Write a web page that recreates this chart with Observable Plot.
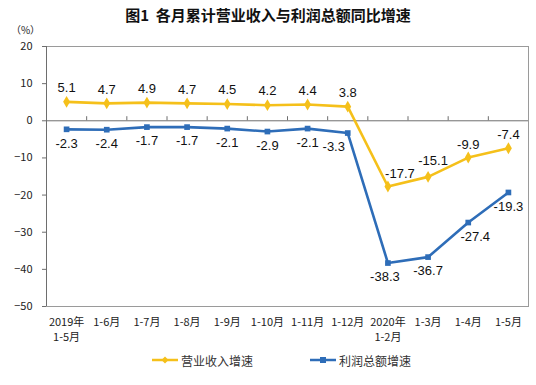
<!DOCTYPE html>
<html>
<head>
<meta charset="utf-8">
<script src="https://cdn.jsdelivr.net/npm/d3@7"></script>
<script src="https://cdn.jsdelivr.net/npm/@observablehq/plot@0.6"></script>
<style>
  html, body { margin: 0; padding: 0; background: #fff; }
  #wrap { position: relative; width: 536px; height: 385px; overflow: hidden; font-family: "Noto Sans CJK SC", sans-serif; }
  #title { position: absolute; top: 4px; left: 0; width: 536px; text-align: center; font-size: 15px; font-weight: bold; color: #111; line-height: 22px; }
  #chart { position: absolute; top: 0; left: 0; }
  #legend { position: absolute; top: 350px; left: 0; width: 536px; height: 20px; font-size: 12px; color: #333; }
  .item { position: absolute; top: 0; display: flex; align-items: center; height: 20px; }
  .item svg { margin-right: 3px; }
</style>
</head>
<body>
<div id="wrap">
  <div id="chart"></div>
  <div id="title">图1&nbsp;&nbsp;各月累计营业收入与利润总额同比增速</div>
  <div id="legend">
    <div class="item" style="left:152px"><svg width="26" height="10"><line x1="0" y1="5" x2="26" y2="5" stroke="#F5C01A" stroke-width="2.5"/><path d="M13,1.5L16.5,5L13,8.5L9.5,5Z" fill="#F5C01A"/></svg><span>营业收入增速</span></div>
    <div class="item" style="left:310px"><svg width="26" height="10"><line x1="0" y1="5" x2="26" y2="5" stroke="#2E6DB8" stroke-width="2.5"/><rect x="10" y="2" width="6" height="6" fill="#2E6DB8"/></svg><span>利润总额增速</span></div>
  </div>
</div>
<script>
const categories = ["2019年\n1-5月", "1-6月", "1-7月", "1-8月", "1-9月", "1-10月", "1-11月", "1-12月", "2020年\n1-2月", "1-3月", "1-4月", "1-5月"];
const revenue = [5.1, 4.7, 4.9, 4.7, 4.5, 4.2, 4.4, 3.8, -17.7, -15.1, -9.9, -7.4];
const profit = [-2.3, -2.4, -1.7, -1.7, -2.1, -2.9, -2.1, -3.3, -38.3, -36.7, -27.4, -19.3];
const yTicks = [20, 10, 0, -10, -20, -30, -40, -50];

const YELLOW = "#F5C01A";
const BLUE = "#2E6DB8";
const LABEL_FONT = "'Liberation Sans', Arial, sans-serif";

const rows = categories.map((c, i) => ({ i, c, revenue: revenue[i], profit: profit[i] }));
const boundaries = categories.slice(1).map((_, k) => k + 0.5);

// label placement groups (style only): [filter, dx, dy]
const revGroups = [
  [(d) => d.i < 8, 0, -14],
  [(d) => d.i === 8, 12, -13],
  [(d) => d.i === 9, 5, -16],
  [(d) => d.i > 9, 0, -13]
];
const profGroups = [
  [(d) => d.i < 7 || d.i === 9 || d.i === 11, 0, 14],
  [(d) => d.i === 7, -14, 14],
  [(d) => d.i === 8, -3, 14],
  [(d) => d.i === 10, 7, 14]
];

const labelMarks = [
  ...revGroups.map(([f, dx, dy]) => Plot.text(rows, { filter: f, x: "i", y: "revenue", text: (d) => d.revenue.toFixed(1), dx, dy, fontSize: 13, fill: "#111", fontFamily: LABEL_FONT })),
  ...profGroups.map(([f, dx, dy]) => Plot.text(rows, { filter: f, x: "i", y: "profit", text: (d) => d.profit.toFixed(1), dx, dy, fontSize: 13, fill: "#111", fontFamily: LABEL_FONT }))
];

const chart = Plot.plot({
  width: 536,
  height: 345,
  marginTop: 46,
  marginBottom: 39,
  marginLeft: 46,
  marginRight: 8,
  style: { fontFamily: "'Noto Sans CJK SC', sans-serif", background: "transparent", color: "#333" },
  x: { type: "linear", domain: [-0.5, categories.length - 0.5] },
  y: { domain: [-50, 20] },
  marks: [
    Plot.frame({ stroke: "#9a9a9a" }),
    Plot.ruleY([0], { stroke: "#6e6e6e", strokeWidth: 1 }),
    Plot.ruleX([-0.5], { stroke: "#6e6e6e", strokeWidth: 1 }),
    Plot.ruleX(boundaries, { y1: 0, y2: 1.1, stroke: "#6e6e6e" }),
    Plot.axisY({ ticks: yTicks, tickSize: 4, tickPadding: 10, fontSize: 11, label: null, stroke: "#6e6e6e", fill: "#222" }),
    Plot.axisX({ ticks: d3.range(categories.length), tickFormat: (i) => categories[i], tickSize: 0, tickPadding: 8, fontSize: 11, lineHeight: 1.42, label: null, fill: "#222" }),
    Plot.text(["（%）"], { frameAnchor: "top-left", textAnchor: "middle", dx: -21, dy: -20, fontSize: 10, fill: "#222" }),
    Plot.line(rows, { x: "i", y: "revenue", stroke: YELLOW, strokeWidth: 2.6 }),
    Plot.dot(rows, { x: "i", y: "revenue", symbol: "diamond", r: 3.6, fill: YELLOW, stroke: null }),
    Plot.line(rows, { x: "i", y: "profit", stroke: BLUE, strokeWidth: 2.6 }),
    Plot.dot(rows, { x: "i", y: "profit", symbol: "square", r: 3.2, fill: BLUE, stroke: null }),
    ...labelMarks
  ]
});
document.getElementById("chart").appendChild(chart);
</script>
</body>
</html>
